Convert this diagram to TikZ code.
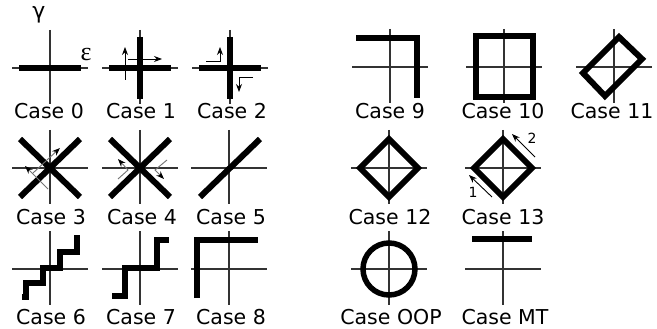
\documentclass[tikz,border=0pt]{standalone}
\usepackage{fontspec}
\setmainfont{DejaVu Sans}
\newfontfamily\serifgreek{Liberation Serif}
\usetikzlibrary{arrows.meta}
\begin{document}
\begin{tikzpicture}[x=1pt,y=-1pt,
  axis/.style={line width=1.3pt,black!80},
  thick6/.style={line width=6pt,black,line join=miter},
  arr/.style={line width=0.9pt,black,-{Stealth[length=8pt,width=6pt]}},
  garr/.style={line width=0.9pt,black!55,-{Stealth[length=8pt,width=6pt,color=black]}},
  lbl/.style={font=\fontsize{20.5}{22}\selectfont,anchor=base,inner sep=0pt},
  small/.style={font=\fontsize{14}{16}\selectfont,inner sep=0pt}]
\useasboundingbox (0,0) rectangle (657,329);
\newcommand{\axesat}[2]{\draw[axis] (#1-38,#2) -- (#1+38,#2); \draw[axis] (#1,#2-38) -- (#1,#2+36);}
% ---- Row 1
\axesat{50}{68}
\draw[thick6] (19,68) -- (81,68);
\node[font=\fontsize{22}{24}\selectfont,inner sep=0pt] (g) at (39,15) {γ};
\node[font=\serifgreek\fontsize{26}{28}\selectfont,inner sep=0pt] (e) at (86,55) {ε};
\node[lbl] (c0) at (49,119) {Case 0};

\axesat{140}{68}
\draw[thick6] (109,68) -- (171,68);
\draw[thick6] (140,37) -- (140,99);
\draw[arr] (125,80) -- (125,47);
\draw[arr] (128,59) -- (162,59);
\node[lbl] (c1) at (141,119) {Case 1};

\axesat{230}{68}
\draw[thick6] (199,68) -- (261,68);
\draw[thick6] (230,37) -- (230,99);
\draw[arr] (206,61) -- (220,61) -- (220,47);
\draw[arr] (253,77) -- (239,77) -- (239,92);
\node[lbl] (c2) at (232,119) {Case 2};

% ---- Row 2
\axesat{50}{168}
\draw[thick6] (20,139) -- (80,197);
\draw[thick6] (20,197) -- (80,139);
\draw[garr] (48,189) -- (25,166);
\draw[garr] (33,173) -- (60,148);
\node[lbl] (c3) at (51,224) {Case 3};

\axesat{140}{168}
\draw[thick6] (110,139) -- (170,197);
\draw[thick6] (110,197) -- (170,139);
\draw[garr] (118,179) -- (128,170) -- (118,159);
\draw[garr] (167,160) -- (155,170) -- (164,179);
\node[lbl] (c4) at (142,224) {Case 4};

\axesat{229}{168}
\draw[thick6] (200,197) -- (260,139);
\node[lbl] (c5) at (231,224) {Case 5};

% ---- Row 3
\axesat{50}{269}
\draw[thick6] (22,297) -- (26,297) -- (26,283) -- (43,283) -- (43,268) -- (60,268) -- (60,252) -- (77,252) -- (77,238) -- (80,238);
\node[lbl] (c6) at (51,324) {Case 6};

\axesat{140}{269}
\draw[thick6] (112,296) -- (125,296) -- (125,268) -- (157,268) -- (157,240) -- (169,240);
\node[lbl] (c7) at (141,324) {Case 7};

\axesat{229}{269}
\draw[thick6] (197,298) -- (197,240) -- (258,240);
\node[lbl] (c8) at (231,324) {Case 8};

% ---- Right block
\axesat{390}{67}
\draw[thick6] (356,38) -- (417,38) -- (417,98);
\node[lbl] (c9) at (390,119) {Case 9};

\axesat{504}{67}
\draw[thick6] (476,36) rectangle (533,97);
\node[lbl] (c10) at (503,119) {Case 10};

\axesat{614}{67}
\draw[thick6] (619,37) -- (642,59) -- (605,96) -- (583,73) -- cycle;
\node[lbl] (c11) at (612,119) {Case 11};

\axesat{389}{168}
\draw[thick6] (389,139) -- (418,168) -- (389,197) -- (360,168) -- cycle;
\node[lbl] (c12) at (390,224) {Case 12};

\axesat{503}{168}
\draw[thick6] (503,139) -- (532,168) -- (503,197) -- (474,168) -- cycle;
\draw[arr] (535,157) -- (512,134);
\draw[arr] (492,197) -- (469,175);
\node[small] (n2) at (532,138) {2};
\node[small] (n1) at (473,192) {1};
\node[lbl] (c13) at (503,224) {Case 13};

\axesat{389}{269}
\draw[line width=5.5pt] (389,269) circle (26);
\node[lbl] (coop) at (391,324) {Case OOP};

\axesat{503}{269}
\draw[thick6] (472,239) -- (532,239);
\node[lbl] (cmt) at (505,324) {Case MT};
\end{tikzpicture}
\end{document}
